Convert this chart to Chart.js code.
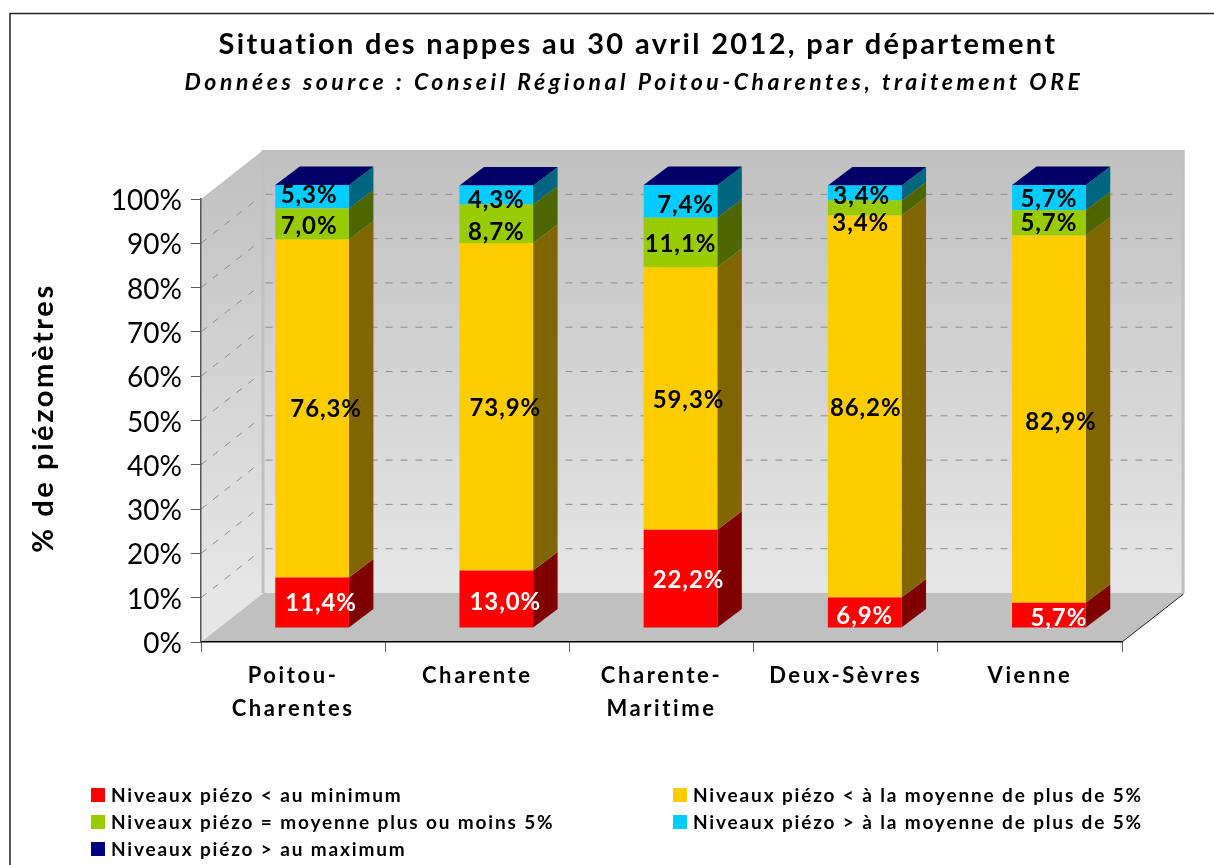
<!DOCTYPE html>
<html>
<head>
<meta charset="utf-8">
<script src="https://cdn.jsdelivr.net/npm/chart.js@4"></script>
<style>
html, body { margin: 0; background: #fff; overflow: hidden; }
canvas { display: block; }
</style>
</head>
<body>
<canvas id="myChart" width="1214" height="865"></canvas>
<script>
const categories = [['Poitou-', 'Charentes'], ['Charente'], ['Charente-', 'Maritime'], ['Deux-Sèvres'], ['Vienne']];
const sousMin = [11.4, 13.0, 22.2, 6.9, 5.7];
const sousMoyenne = [76.3, 73.9, 59.3, 86.2, 82.9];
const moyenne = [7.0, 8.7, 11.1, 3.4, 5.7];
const surMoyenne = [5.3, 4.3, 7.4, 3.4, 5.7];
const surMax = [0, 0, 0, 0, 0];
const seriesLabels = [
    'Niveaux piézo < au minimum',
    'Niveaux piézo < à la moyenne de plus de 5%',
    'Niveaux piézo = moyenne plus ou moins 5%',
    'Niveaux piézo > à la moyenne de plus de 5%',
    'Niveaux piézo > au maximum'
];
const titre = 'Situation des nappes au 30 avril 2012, par département';
const sousTitre = 'Données source : Conseil Régional Poitou-Charentes, traitement ORE';
const axeY = '% de piézomètres';

// face colours, then the darker side of each bar
const colors = ['#ff0000', '#ffcc00', '#99cc00', '#00ccff', '#000080'];
const sides = ['#800000', '#806600', '#4d6600', '#006680', '#000066'];

// the data labels were moved by hand in the original, [dx, dy] from segment centre
const nudges = [
    [[9, 0], [9, 2], [8, 1], [0, 3], [10, 2]],
    [[14, 0], [9, 1], [8, 1], [1, 1], [12, 2]],
    [[-3, 1], [0, 8], [0, 1], [-4, 14], [0, -1]],
    [[-3, -2], [0, 4], [5, 3], [-3, 2], [0, 1]]
];

const FONT = 'Lato, Carlito, sans-serif';
const WALL_DX = 62.5, WALL_DY = -49;   // front of the floor to the back wall
const BAR_DX = 19, BAR_DY = -14;       // front of the floor to the bar faces
const SIDE_DX = 24.5, SIDE_DY = -18.5; // depth of a bar

function text(ctx, str, x, y, font, spacing, color) {
    ctx.font = font;
    ctx.letterSpacing = spacing + 'px';
    ctx.fillStyle = color || '#000';
    ctx.textAlign = 'center';
    ctx.textBaseline = 'middle';
    ctx.fillText(str, x, y);
    ctx.letterSpacing = '0px';
}

function poly(ctx, color, pts) {
    ctx.fillStyle = color;
    ctx.beginPath();
    pts.forEach((p, i) => i ? ctx.lineTo(p[0], p[1]) : ctx.moveTo(p[0], p[1]));
    ctx.closePath();
    ctx.fill();
}

const scene = {
    id: 'scene',
    beforeDraw(chart) {
        const ctx = chart.ctx;
        const a = chart.chartArea;
        const y = chart.scales.y;
        const backL = a.left + WALL_DX, backR = a.right + WALL_DX;
        const backT = a.top + WALL_DY, backB = a.bottom + WALL_DY;

        // outer frame
        ctx.strokeStyle = '#222';
        ctx.lineWidth = 1.5;
        ctx.beginPath();
        ctx.moveTo(10, 870);
        ctx.lineTo(10, 13.5);
        ctx.lineTo(1220, 13.5);
        ctx.stroke();

        const grad = ctx.createLinearGradient(0, backT, 0, backB);
        grad.addColorStop(0, '#c0c0c0');
        grad.addColorStop(1, '#e6e6e6');
        poly(ctx, grad, [[backL, backT], [backR, backT], [backR, backB], [backL, backB]]);
        poly(ctx, grad, [[a.left, a.top], [backL, backT], [backL, backB], [a.left, a.bottom]]);
        poly(ctx, '#c0c0c0', [[backL - 2, backT], [backL + 1, backT], [backL + 1, backB], [backL - 2, backB]]);
        poly(ctx, '#c0c0c0', [[backR - 3, backT], [backR, backT], [backR, backB], [backR - 3, backB]]);
        poly(ctx, '#c0c0c0', [[a.left, a.bottom], [backL, backB], [backR, backB], [a.right, a.bottom]]);

        // right hand edge of the floor and the grey rim under the axis
        ctx.strokeStyle = '#222';
        ctx.lineWidth = 1;
        ctx.beginPath();
        ctx.moveTo(a.right, a.bottom);
        ctx.lineTo(backR - 1, backB + 1);
        ctx.stroke();

        // dashed gridlines on both walls
        ctx.save();
        ctx.strokeStyle = '#8e8e8e';
        ctx.lineWidth = 1;
        ctx.setLineDash([7, 8]);
        y.ticks.forEach(t => {
            if (t.value === 0 || t.value === 100) return;
            const py = y.getPixelForValue(t.value);
            ctx.beginPath();
            ctx.moveTo(a.left, py);
            ctx.lineTo(backL - 7, py + WALL_DY * (WALL_DX - 7) / WALL_DX);
            ctx.moveTo(backL + 2, py + WALL_DY);
            ctx.lineTo(backR - 8, py + WALL_DY);
            ctx.stroke();
        });
        ctx.restore();

        // titles
        text(ctx, titre, 638, 45, 'bold 29px ' + FONT, 2.35);
        text(ctx, sousTitre, 634, 83, 'italic bold 23px ' + FONT, 3.55);

        ctx.save();
        ctx.translate(44, 418);
        ctx.rotate(-Math.PI / 2);
        text(ctx, axeY, 0, 0, 'bold 29px ' + FONT, 2.6);
        ctx.restore();

        // category labels
        const x = chart.scales.x;
        categories.forEach((lines, i) => {
            lines.forEach((line, k) => {
                text(ctx, line, x.getPixelForTick(i), 676 + k * 33, 'bold 22px ' + FONT, 2.6);
            });
        });

        // legend, two columns
        chart.data.datasets.forEach((ds, i) => {
            const lx = i % 2 ? 673 : 91;
            const ly = 795 + Math.floor(i / 2) * 27;
            ctx.fillStyle = ds.backgroundColor;
            ctx.fillRect(lx, ly - 7, 14, 14);
            ctx.font = 'bold 19px ' + FONT;
            ctx.letterSpacing = '1.85px';
            ctx.fillStyle = '#000';
            ctx.textAlign = 'left';
            ctx.textBaseline = 'middle';
            ctx.fillText(ds.label, lx + 20, ly + 1);
            ctx.letterSpacing = '0px';
        });
    },
    beforeDatasetsDraw(chart) {
        const ctx = chart.ctx;
        ctx.save();
        ctx.translate(BAR_DX, BAR_DY);
        // bar sides and tops, the faces come from chart.js right after
        chart.data.datasets.forEach((ds, d) => {
            chart.getDatasetMeta(d).data.forEach(bar => {
                const r = bar.x + bar.width / 2, l = bar.x - bar.width / 2;
                if (bar.base !== bar.y) {
                    poly(ctx, sides[d], [[r, bar.base], [r + SIDE_DX, bar.base + SIDE_DY],
                        [r + SIDE_DX, bar.y + SIDE_DY], [r, bar.y]]);
                } else {
                    poly(ctx, sides[d], [[l, bar.y], [r, bar.y], [r + SIDE_DX, bar.y + SIDE_DY], [l + SIDE_DX, bar.y + SIDE_DY]]);
                }
            });
        });
    },
    afterDatasetsDraw(chart) {
        const ctx = chart.ctx;
        ctx.restore();
        nudges.forEach((row, d) => {
            const ds = chart.data.datasets[d];
            chart.getDatasetMeta(d).data.forEach((bar, i) => {
                const label = ds.data[i].toFixed(1).replace('.', ',') + '%';
                text(ctx, label,
                    bar.x + BAR_DX + row[i][0],
                    (bar.y + bar.base) / 2 + BAR_DY + row[i][1] + 1,
                    'bold 24px ' + FONT, 0.9, d === 0 ? '#fff' : '#000');
            });
        });
        // y tick labels have z 1 so they come next, Lato sits a bit high
        ctx.save();
        ctx.translate(0, 2);
    },
    afterDraw(chart) {
        chart.ctx.restore();
    }
};

const series = [sousMin, sousMoyenne, moyenne, surMoyenne, surMax];

let chart = new Chart(document.getElementById('myChart').getContext('2d'), {
    type: 'bar',
    data: {
        labels: categories,
        datasets: series.map((values, i) => ({
            label: seriesLabels[i],
            data: values,
            backgroundColor: colors[i],
            categoryPercentage: 1,
            barPercentage: 0.4
        }))
    },
    options: {
        responsive: false,
        animation: false,
        layout: { padding: { left: 0, top: 199, right: 92, bottom: 123 } },
        plugins: { legend: { display: false }, tooltip: { enabled: false } },
        scales: {
            x: {
                stacked: true,
                afterFit: s => { s.height = 100; },
                grid: { drawOnChartArea: false, tickLength: 10, color: '#666', tickColor: '#666' },
                border: { color: '#000', width: 1.5 },
                ticks: { display: false }
            },
            y: {
                stacked: true,
                min: 0,
                max: 100,
                afterFit: s => { s.width = 201; },
                grid: { drawOnChartArea: false, tickLength: 10, color: '#555', tickColor: '#555' },
                border: { color: '#555', width: 1.5 },
                ticks: {
                    z: 1,
                    stepSize: 10,
                    padding: 9,
                    color: '#000',
                    font: { size: 28, family: FONT },
                    callback: v => v + '%'
                }
            }
        }
    },
    plugins: [scene]
});
</script>
</body>
</html>
